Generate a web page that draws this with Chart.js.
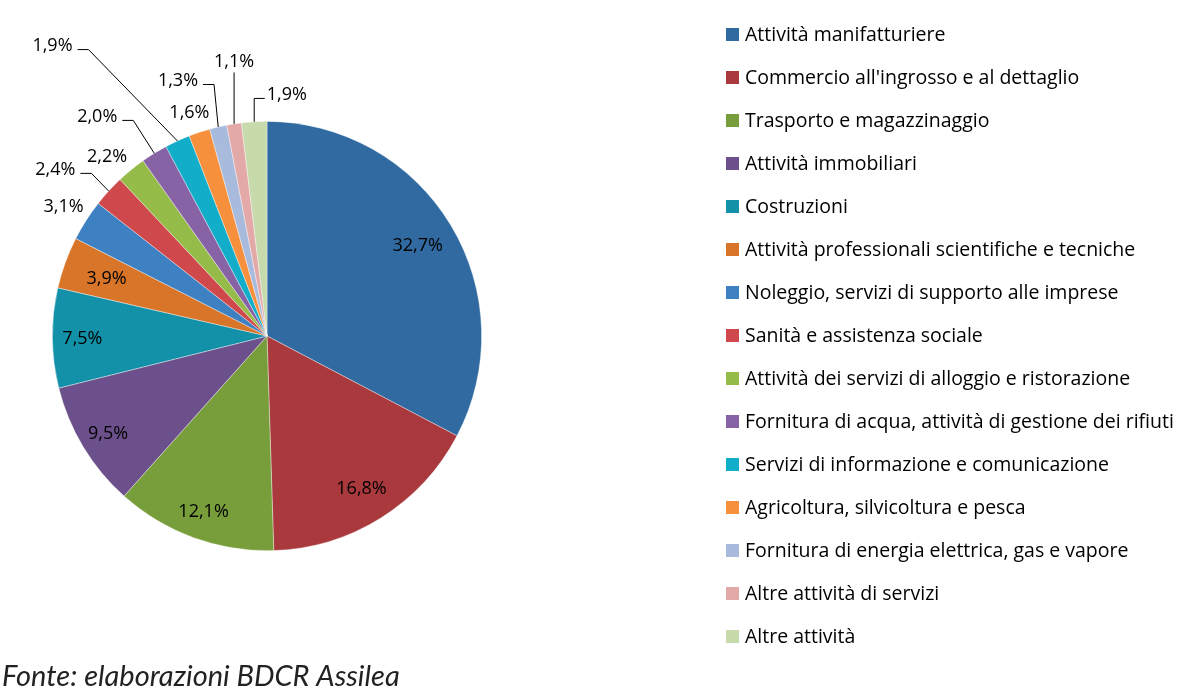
<!DOCTYPE html>
<html>
<head>
<meta charset="utf-8">
<script src="https://cdn.jsdelivr.net/npm/chart.js@4/dist/chart.umd.min.js"></script>
<style>
  body { margin: 0; background: #fff; }
  #wrap { width: 1181px; height: 694px; }
</style>
</head>
<body>
<div id="wrap"><canvas id="sectorsChart" width="1181" height="694"></canvas></div>
<script>
const sectors = [
    'Attività manifatturiere',
    "Commercio all'ingrosso e al dettaglio",
    'Trasporto e magazzinaggio',
    'Attività immobiliari',
    'Costruzioni',
    'Attività professionali scientifiche e tecniche',
    'Noleggio, servizi di supporto alle imprese',
    'Sanità e assistenza sociale',
    'Attività dei servizi di alloggio e ristorazione',
    'Fornitura di acqua, attività di gestione dei rifiuti',
    'Servizi di informazione e comunicazione',
    'Agricoltura, silvicoltura e pesca',
    'Fornitura di energia elettrica, gas e vapore',
    'Altre attività di servizi',
    'Altre attività'
];
const shares = [32.7, 16.8, 12.1, 9.5, 7.5, 3.9, 3.1, 2.4, 2.2, 2.0, 1.9, 1.6, 1.3, 1.1, 1.9];
const sliceColors = [
    '#306AA0', '#A9393C', '#789D3B', '#6C508B', '#1391A8', '#D87529', '#3E81C3', '#CF484B',
    '#95BB49', '#8763A6', '#12ADC8', '#F6903C', '#A8BBDD', '#E3A9A9', '#C6DAAC'
];
const sourceNote = 'Fonte: elaborazioni BDCR Assilea';

// how each percentage label sits: inside, just outside, or outside with a leader line
// r = fraction of radius, da = angle shift in degrees from the slice middle
const labelPlacement = [
    { mode: 'in', r: 0.82 }, { mode: 'in', r: 0.83 }, { mode: 'in', r: 0.865 },
    { mode: 'in', r: 0.865 }, { mode: 'in', r: 0.86 }, { mode: 'in', r: 0.795 },
    { mode: 'out', r: 1.125, da: 0 },
    { mode: 'leader', r: 1.258, da: -4.1 },
    { mode: 'out', r: 1.124, da: -2.3 },
    { mode: 'leader', r: 1.297, da: -5.9 },
    { mode: 'leader', r: 1.686, da: -11.7 },
    { mode: 'out', r: 1.107, da: -0.7 },
    { mode: 'leader', r: 1.265, da: -6 },
    { mode: 'leader', r: 1.293, da: 2 },
    { mode: 'leader', r: 1.134, da: 8.1 }
];

const FONT = '"Open Sans", Lato, sans-serif';

const fmt = v => v.toFixed(1).replace('.', ',') + '%';

const pieExtras = {
    id: 'pieExtras',
    afterDraw(chart) {
        const ctx = chart.ctx;
        const meta = chart.getDatasetMeta(0);
        ctx.save();

        // percentage labels
        ctx.font = '18px ' + FONT;
        ctx.fillStyle = '#000';
        ctx.strokeStyle = '#000';
        ctx.lineWidth = 1;
        meta.data.forEach((arc, i) => {
            const p = labelPlacement[i];
            const mid = (arc.startAngle + arc.endAngle) / 2;
            const ang = mid + (p.da || 0) * Math.PI / 180;
            const R = arc.outerRadius;
            const cx = arc.x + Math.cos(ang) * R * p.r;
            const cy = arc.y + Math.sin(ang) * R * p.r;
            const txt = fmt(shares[i]);
            const w = ctx.measureText(txt).width;
            ctx.textAlign = 'center';
            ctx.textBaseline = 'alphabetic';
            ctx.fillText(txt, cx, cy + 6.5);

            if (p.mode === 'leader') {
                const ax = arc.x + Math.cos(mid) * R;
                const ay = arc.y + Math.sin(mid) * R;
                const left = cx - w / 2, right = cx + w / 2;
                ctx.beginPath();
                if (ax >= left && ax <= right) {
                    ctx.moveTo(ax, cy + 12);
                    ctx.lineTo(ax, ay);
                } else if (ax > right) {
                    ctx.moveTo(right + 5, cy + 5);
                    ctx.lineTo(right + 16, cy + 5);
                    ctx.lineTo(ax, ay);
                } else {
                    ctx.moveTo(left - 2, cy + 5);
                    ctx.lineTo(Math.max(ax, left - 15), cy + 5);
                    ctx.lineTo(ax, ay);
                }
                ctx.stroke();
            }
        });

        // legend on the right
        ctx.font = '19.5px ' + FONT;
        ctx.textAlign = 'left';
        ctx.textBaseline = 'alphabetic';
        sectors.forEach((name, i) => {
            const y = 34 + i * 43;
            ctx.fillStyle = sliceColors[i];
            ctx.fillRect(726, y - 6, 13, 13);
            ctx.fillStyle = '#000';
            ctx.fillText(name, 745, y + 7);
        });

        // source note
        ctx.font = 'italic 24px Lato, sans-serif';
        const nw = ctx.measureText(sourceNote).width;
        const size = 24 * 398 / nw;
        ctx.font = 'italic ' + size.toFixed(1) + 'px Lato, sans-serif';
        ctx.fillStyle = '#222';
        ctx.fillText(sourceNote, 2, 686);

        ctx.restore();
    }
};

new Chart(document.getElementById('sectorsChart').getContext('2d'), {
    type: 'pie',
    data: {
        labels: sectors,
        datasets: [{
            data: shares,
            backgroundColor: sliceColors,
            borderColor: 'rgba(255, 255, 255, 0.5)',
            borderWidth: 0.75
        }]
    },
    options: {
        responsive: false,
        animation: false,
        layout: { padding: { left: 52, top: 121, right: 699, bottom: 143 } },
        plugins: {
            legend: { display: false },
            tooltip: { enabled: false }
        }
    },
    plugins: [pieExtras]
});
</script>
</body>
</html>
